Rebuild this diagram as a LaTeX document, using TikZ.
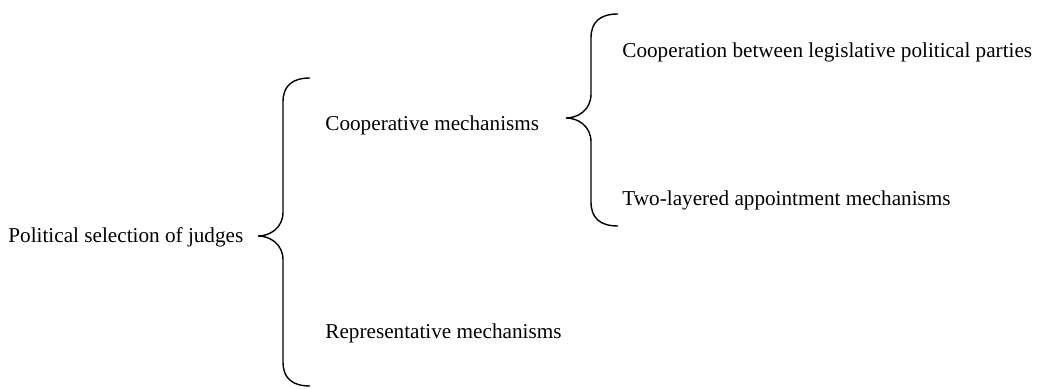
\documentclass[tikz,border=0pt]{standalone}
\usepackage{fontspec}
\setmainfont{Liberation Serif}

\tikzset{
  label/.style={anchor=west, inner sep=0pt, font=\fontsize{10.6}{12}\selectfont},
  curly/.style={line width=0.7pt}
}

% brace: #1 = x of the ends, #2 = top y, #3 = tip y, #4 = bottom y
\newcommand{\curlybrace}[4]{
  \draw [curly] (#1, #2) .. controls (#1-18, #2) and (#1-27, #2+8) .. (#1-27, #2+24)
    -- (#1-27, #3-24) .. controls (#1-27, #3-8) and (#1-40, #3) .. (#1-52, #3)
    .. controls (#1-40, #3) and (#1-27, #3+8) .. (#1-27, #3+24)
    -- (#1-27, #4-24) .. controls (#1-27, #4-8) and (#1-18, #4) .. (#1, #4);
}

\begin{document}
\begin{tikzpicture}[x=0.5pt, y=-0.5pt]
\useasboundingbox (0,0) rectangle (1038,389);

\def\xroot{8};
\def\xmid{325};
\def\xleaf{622};

% left brace
\curlybrace{310}{78}{236}{386}

% right brace
\curlybrace{618}{14}{118}{226}

\node [label] (root) at (\xroot, 237) {Political selection of judges};
\node [label] (coop) at (\xmid, 125) {Cooperative mechanisms};
\node [label] (repr) at (\xmid, 333) {Representative mechanisms};
\node [label] (parties) at (\xleaf, 52) {Cooperation between legislative political parties};
\node [label] (layers) at (\xleaf, 200) {Two-layered appointment mechanisms};

\end{tikzpicture}
\end{document}
